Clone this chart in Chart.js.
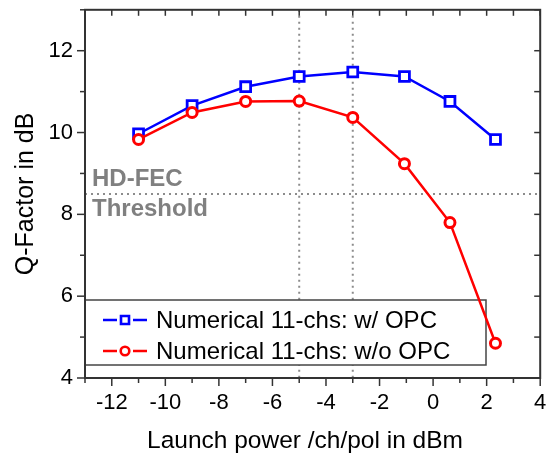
<!DOCTYPE html>
<html>
<head>
<meta charset="utf-8">
<script src="https://cdn.jsdelivr.net/npm/chart.js@4"></script>
<style>
  body { margin: 0; background: #fff; }
  #wrap { width: 550px; height: 458px; }
</style>
</head>
<body>
<div id="wrap"><canvas id="q-chart"></canvas></div>
<script>
// launch power /ch/pol (dBm) and Q-factor (dB)
const launchPower = [-11, -9, -7, -5, -3, -1.07, 0.63, 2.33];
const qWithOpc = [9.97, 10.66, 11.12, 11.37, 11.48, 11.37, 10.76, 9.83];
const qWithoutOpc = [9.83, 10.49, 10.76, 10.77, 10.37, 9.24, 7.80, 4.85];
const seriesNames = ['Numerical 11-chs: w/ OPC', 'Numerical 11-chs: w/o OPC'];

const xTicks = [-12, -10, -8, -6, -4, -2, 0, 2, 4];
const yTicks = [4, 6, 8, 10, 12];
const optimumPowers = [-5, -3];
const fecThreshold = 8.5;

const FONT = 'Arial, "Liberation Sans", sans-serif';

function seg(ctx, x1, y1, x2, y2) {
  ctx.beginPath();
  ctx.moveTo(x1, y1);
  ctx.lineTo(x2, y2);
  ctx.stroke();
}

function marker(ctx, style, x, y, color) {
  ctx.save();
  ctx.fillStyle = '#fff';
  ctx.strokeStyle = color;
  ctx.lineWidth = 2.6;
  ctx.beginPath();
  if (style === 'rect') ctx.rect(x - 4, y - 4, 8, 8);
  else ctx.arc(x, y, 4.3, 0, Math.PI * 2);
  ctx.fill();
  ctx.stroke();
  ctx.restore();
}

// no extra room for edge labels: plot box is fixed by afterFit
function fixBox(s, size) {
  if (s.isHorizontal()) s.height = size; else s.width = size;
  s.paddingTop = s.paddingBottom = s.paddingLeft = s.paddingRight = 0;
}

// dotted guides, HD-FEC label, legend, frame, ticks and axis titles
const decor = {
  id: 'decor',
  beforeDatasetsDraw(chart) {
    const { ctx, chartArea: a, scales: { x, y } } = chart;
    ctx.save();
    ctx.strokeStyle = '#8c8c8c';
    ctx.lineWidth = 2;
    ctx.setLineDash([2, 4]);
    optimumPowers.forEach(p => {
      const px = x.getPixelForValue(p);
      seg(ctx, px, a.top, px, a.bottom);
    });
    const py = y.getPixelForValue(fecThreshold);
    seg(ctx, a.left, py, a.right, py);
    ctx.setLineDash([]);

    ctx.fillStyle = '#808080';
    ctx.font = 'bold 24px ' + FONT;
    ctx.textBaseline = 'alphabetic';
    ctx.fillText('HD-FEC', a.left + 7, py - 8);
    ctx.fillText('Threshold', a.left + 7, py + 22);

    // legend box
    const top = a.bottom - 78, bottom = a.bottom - 13, right = 486;
    ctx.fillStyle = '#fff';
    ctx.fillRect(a.left, top, right - a.left, bottom - top);
    ctx.strokeStyle = '#444';
    ctx.lineWidth = 1.5;
    ctx.strokeRect(a.left, top, right - a.left, bottom - top);

    ctx.font = '24px ' + FONT;
    chart.data.datasets.forEach((ds, i) => {
      const cy = top + 20 + i * 31;
      ctx.strokeStyle = ds.borderColor;
      ctx.lineWidth = 2.5;
      seg(ctx, a.left + 18, cy, a.left + 32, cy);
      seg(ctx, a.left + 48, cy, a.left + 62, cy);
      marker(ctx, ds.pointStyle, a.left + 40, cy, ds.borderColor);
      ctx.fillStyle = '#000';
      ctx.fillText(ds.label, a.left + 71, cy + 8);
    });
    ctx.restore();
  },
  afterDraw(chart) {
    const { ctx, chartArea: a, scales: { x, y } } = chart;
    ctx.save();
    ctx.strokeStyle = '#333';
    ctx.lineWidth = 1.5;
    for (let v = -13; v <= 4; v++) {
      const px = x.getPixelForValue(v);
      const major = v % 2 === 0;
      seg(ctx, px, a.bottom, px, a.bottom + (major ? 8 : 5));
      seg(ctx, px, a.top, px, a.top + 6);
    }
    for (let v = 4; v <= 13; v++) {
      const py = y.getPixelForValue(v);
      const major = v % 2 === 0;
      seg(ctx, a.left - (major ? 8 : 5), py, a.left, py);
      seg(ctx, a.right - 6, py, a.right, py);
    }
    ctx.lineWidth = 2;
    ctx.strokeRect(a.left, a.top, a.right - a.left, a.bottom - a.top);

    ctx.fillStyle = '#000';
    ctx.textAlign = 'center';
    ctx.textBaseline = 'alphabetic';
    ctx.font = '24.5px ' + FONT;
    ctx.fillText('Launch power /ch/pol in dBm', a.left + 220, 448);
    ctx.translate(33, (a.top + a.bottom) / 2);
    ctx.rotate(-Math.PI / 2);
    ctx.font = '25px ' + FONT;
    ctx.fillText('Q-Factor in dB', 0, 0);
    ctx.restore();
  }
};

const tickFont = { family: FONT, size: 22 };

new Chart(document.getElementById('q-chart'), {
  type: 'scatter',
  data: {
    datasets: [
      {
        label: seriesNames[0],
        data: launchPower.map((p, i) => ({ x: p, y: qWithOpc[i] })),
        showLine: true,
        borderColor: '#0000ff',
        borderWidth: 2.5,
        pointStyle: 'rect',
        pointRadius: 7,
        pointBorderWidth: 2.8,
        pointBackgroundColor: '#fff',
        order: 2
      },
      {
        label: seriesNames[1],
        data: launchPower.map((p, i) => ({ x: p, y: qWithoutOpc[i] })),
        showLine: true,
        borderColor: '#ff0000',
        borderWidth: 2.5,
        pointStyle: 'circle',
        pointRadius: 5,
        pointBorderWidth: 3,
        pointBackgroundColor: '#fff',
        order: 1
      }
    ]
  },
  options: {
    responsive: true,
    maintainAspectRatio: false,
    animation: false,
    layout: { padding: { top: 9, right: 6, left: 0, bottom: 0 } },
    plugins: { legend: { display: false }, tooltip: { enabled: false } },
    scales: {
      x: {
        type: 'linear',
        min: -13,
        max: 4,
        afterBuildTicks: s => { s.ticks = xTicks.map(v => ({ value: v })); },
        afterFit: s => fixBox(s, 80),
        grid: { display: false, drawTicks: false },
        border: { display: false },
        ticks: { color: '#000', font: tickFont, padding: 12, maxRotation: 0, autoSkip: false }
      },
      y: {
        min: 4,
        max: 13,
        afterBuildTicks: s => { s.ticks = yTicks.map(v => ({ value: v })); },
        afterFit: s => fixBox(s, 85),
        grid: { display: false, drawTicks: false },
        border: { display: false },
        ticks: { color: '#000', font: tickFont, padding: 12, autoSkip: false }
      }
    }
  },
  plugins: [decor]
});
</script>
</body>
</html>
